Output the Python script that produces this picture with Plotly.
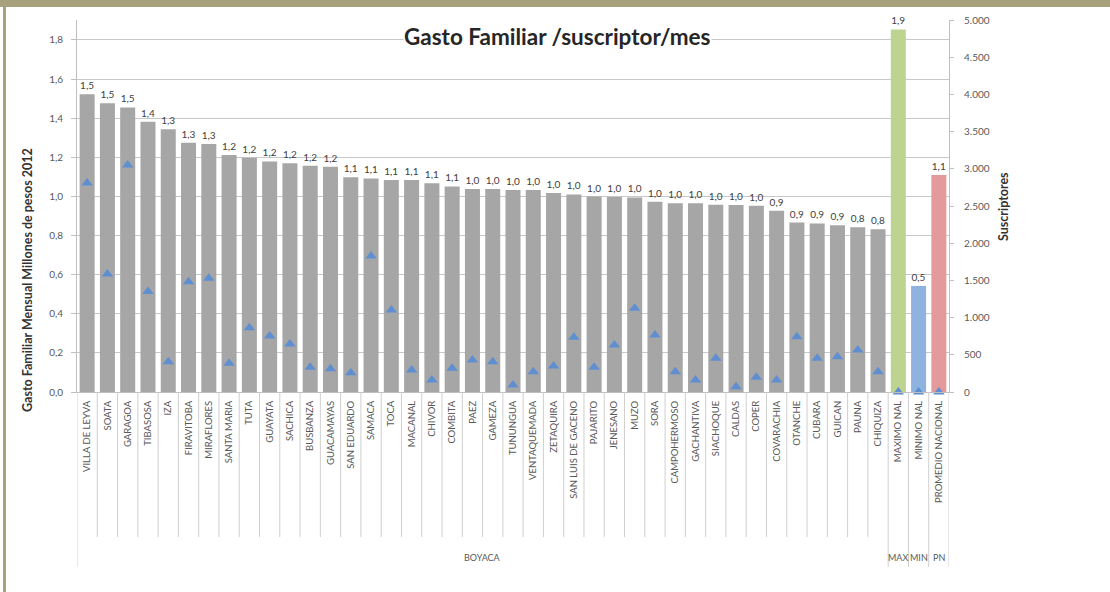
import plotly.graph_objects as go

# Municipios de Boyacá y referencias nacionales
municipios = [
    "VILLA DE LEYVA", "SOATA", "GARAGOA", "TIBASOSA", "IZA", "FIRAVITOBA",
    "MIRAFLORES", "SANTA MARIA", "TUTA", "GUAYATA", "SACHICA", "BUSBANZA",
    "GUACAMAYAS", "SAN EDUARDO", "SAMACA", "TOCA", "MACANAL", "CHIVOR",
    "COMBITA", "PAEZ", "GAMEZA", "TUNUNGUA", "VENTAQUEMADA", "ZETAQUIRA",
    "SAN LUIS DE GACENO", "PAJARITO", "JENESANO", "MUZO", "SORA",
    "CAMPOHERMOSO", "GACHANTIVA", "SIACHOQUE", "CALDAS", "COPER",
    "COVARACHIA", "OTANCHE", "CUBARA", "GUICAN", "PAUNA", "CHIQUIZA",
]
referencias = ["MAXIMO NAL", "MINIMO NAL", "PROMEDIO NACIONAL"]
categorias = municipios + referencias

# Gasto familiar mensual (millones de pesos 2012)
gasto = [
    1.523, 1.476, 1.455, 1.382, 1.343, 1.275, 1.268, 1.212, 1.198, 1.179,
    1.169, 1.157, 1.152, 1.098, 1.092, 1.084, 1.084, 1.067, 1.051, 1.038,
    1.038, 1.033, 1.033, 1.017, 1.010, 0.999, 0.997, 0.995, 0.973, 0.965,
    0.965, 0.958, 0.956, 0.952, 0.927, 0.866, 0.862, 0.852, 0.842, 0.832,
    1.854, 0.542, 1.109,
]

# Número de suscriptores (eje secundario)
suscriptores = [
    2810, 1586, 3050, 1350, 407, 1483, 1528, 385, 865, 753,
    645, 331, 314, 260, 1828, 1102, 296, 161, 318, 430,
    407, 94, 273, 349, 735, 331, 632, 1125, 766, 273,
    161, 452, 72, 197, 161, 744, 452, 475, 565, 273,
    0, 0, 0,
]

# Grupos del eje de categorías: (etiqueta, número de categorías)
grupos = [("BOYACA", 40), ("MAX", 1), ("MIN", 1), ("PN", 1)]

GRIS = "#a6a6a6"
colores = [GRIS] * len(municipios) + ["#bdd38f", "#8fb3e0", "#e29a9a"]
etiquetas = [f"{v:.1f}".replace(".", ",") for v in gasto]

FUENTE = "Lato, 'Liberation Sans', Arial, sans-serif"
TXT = "#595959"

fig = go.Figure()
fig.add_trace(go.Bar(
    x=categorias, y=gasto, marker=dict(color=colores, line=dict(width=0)),
    text=etiquetas, textposition="outside", constraintext="none",
    textfont=dict(family=FUENTE, size=10, color="#404040"),
    cliponaxis=False, hoverinfo="x+y", name="Gasto",
))
fig.add_trace(go.Scatter(
    x=categorias, y=suscriptores, yaxis="y2", mode="markers",
    marker=dict(symbol="triangle-up", size=10, color="#5f8fd0"),
    cliponaxis=False, name="Suscriptores",
))

# Paper coordinates from plot-area geometry
L, R, T, B, W, H = 77, 949, 20, 392, 1110, 592
pw, ph = R - L, B - T
def px(xp):
    return (xp - L) / pw
def py(yp):
    return (B - yp) / ph

shapes = []
# Banda superior y borde izquierdo del marco
shapes.append(dict(type="rect", xref="paper", yref="paper", x0=px(0), x1=px(W),
                   y0=py(7), y1=py(0), fillcolor="#a8a27c", line=dict(width=0), layer="above"))
shapes.append(dict(type="rect", xref="paper", yref="paper", x0=px(3), x1=px(6),
                   y0=py(H), y1=py(7), fillcolor="#a8a27c", line=dict(width=0), layer="above"))

# Separadores entre categorías y entre grupos
limites_grupo = {-0.5}
pos = -0.5
for _, n in grupos:
    pos += n
    limites_grupo.add(pos)
for i in range(len(categorias) + 1):
    b = i - 0.5
    largo = b in limites_grupo
    shapes.append(dict(type="line", xref="x", yref="paper", x0=b, x1=b,
                       y0=0, y1=py(567 if largo else 537),
                       line=dict(color="#cfcfcf", width=1)))

annotations = []
inicio = 0
for nombre, n in grupos:
    centro = inicio + (n - 1) / 2
    annotations.append(dict(xref="x", yref="paper", x=centro, y=py(557),
                            xanchor="center", yanchor="middle",
                            text=nombre, showarrow=False,
                            font=dict(family=FUENTE, size=9, color=TXT)))
    inicio += n

annotations.append(dict(xref="paper", yref="paper", x=px(557), y=py(37),
                        xanchor="center", yanchor="middle",
                        text="Gasto Familiar /suscriptor/mes", showarrow=False,
                        bgcolor="white", borderpad=0,
                        font=dict(family=FUENTE, size=22.5, color="#262626", weight="bold")))
annotations.append(dict(xref="paper", yref="paper", x=px(27), y=py(280),
                        xanchor="center", yanchor="middle",
                        text="Gasto Familiar Mensual Millones de pesos 2012",
                        textangle=-90, showarrow=False,
                        font=dict(family=FUENTE, size=12.5, color="#333333", weight="bold")))
annotations.append(dict(xref="paper", yref="paper", x=px(1003), y=py(206),
                        xanchor="center", yanchor="middle",
                        text="Suscriptores", textangle=-90, showarrow=False,
                        font=dict(family=FUENTE, size=12.5, color="#333333", weight="bold")))

fig.update_layout(
    width=W, height=H, autosize=False,
    margin=dict(l=L, r=W - R, t=T, b=H - B, pad=0),
    paper_bgcolor="white", plot_bgcolor="white",
    separators=",.", showlegend=False, bargap=0.26,
    font=dict(family=FUENTE, color=TXT),
    xaxis=dict(type="category", range=[-0.5, len(categorias) - 0.5],
               tickangle=-90, ticks="", showgrid=False,
               showline=True, linecolor="#bfbfbf", linewidth=1,
               tickfont=dict(family=FUENTE, size=9.5, color=TXT),
               ticklabelstandoff=4),
    yaxis=dict(range=[0, 1.902], dtick=0.2, tickformat=".1f",
               showgrid=True, gridcolor="#c8c8c8", gridwidth=1, zeroline=False,
               showline=True, linecolor="#bfbfbf", ticks="outside", ticklen=5,
               tickcolor="#bfbfbf", ticklabelstandoff=6,
               tickfont=dict(family=FUENTE, size=10, color=TXT)),
    yaxis2=dict(overlaying="y", side="right", range=[0, 5000], dtick=500,
                tickformat=",.0f", showgrid=False, zeroline=False,
                showline=True, linecolor="#bfbfbf", ticks="outside", ticklen=4,
                tickcolor="#bfbfbf", ticklabelstandoff=8,
                tickfont=dict(family=FUENTE, size=10, color=TXT)),
    shapes=shapes, annotations=annotations,
)

fig.write_html("out.html")
